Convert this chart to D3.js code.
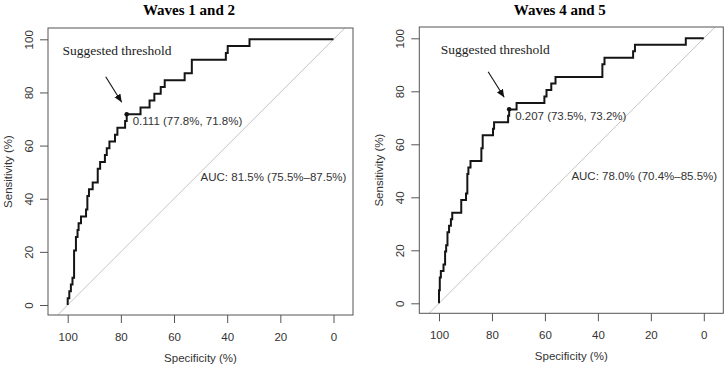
<!DOCTYPE html>
<html>
<head>
<meta charset="utf-8">
<script src="https://cdn.jsdelivr.net/npm/d3@7"></script>
<style>
  body { margin: 0; background: #fff; }
</style>
</head>
<body>
<div id="chart"></div>
<script>
const specTicks = [100, 80, 60, 40, 20, 0];
const sensTicks = [0, 20, 40, 60, 80, 100];
const titles = ["Waves 1 and 2", "Waves 4 and 5"];

// ROC staircase: sensitivity level is held until the given specificity
const spec12 = [100, 99.4, 98.8, 98.2, 97.6, 96.9, 96.3, 95.9, 95.0, 93.1, 92.6, 92.0, 90.6, 88.7, 87.8, 86.0, 85.3, 84.3, 82.2, 81.3, 78.4, 77.8, 72.6, 69.2, 67.4, 65.0, 63.5, 56.0, 53.3, 40.5, 39.8, 31.6, 0];
const sens12 = [0, 2.56, 5.13, 7.69, 10.26, 20.51, 25.64, 28.21, 30.77, 33.33, 35.9, 41.03, 43.59, 46.15, 51.28, 53.85, 56.41, 58.97, 61.54, 64.1, 66.67, 69.23, 71.79, 74.36, 76.92, 79.49, 82.05, 84.62, 87.18, 92.31, 94.87, 97.44, 100];

const spec45 = [100, 99.7, 99.3, 98.3, 97.7, 97.3, 96.8, 96.2, 95.5, 95.0, 91.6, 89.8, 89.3, 88.9, 88.1, 84.0, 83.5, 79.6, 79.2, 73.9, 73.5, 70.7, 60.2, 59.4, 57.6, 56.0, 38.3, 37.5, 26.7, 26.0, 6.8, 0];
const sens45 = [0, 4.88, 9.76, 12.2, 14.63, 19.51, 21.95, 26.83, 29.27, 31.71, 34.15, 39.02, 41.46, 48.78, 51.22, 53.66, 58.54, 63.41, 65.85, 68.29, 70.73, 73.17, 75.61, 78.05, 80.49, 82.93, 85.37, 90.24, 92.68, 95.12, 97.56, 100];

const thresholdValues = ["0.111", "0.207"];
const thresholdSpec = [77.8, 73.5];
const thresholdSens = [71.8, 73.2];
const aucLabels = ["AUC: 81.5% (75.5%\u201387.5%)", "AUC: 78.0% (70.4%\u201385.5%)"];

const width = 727;
const height = 367;
const sans = "'Liberation Sans', Arial, sans-serif";
const serif = "'Liberation Serif', 'Times New Roman', serif";

const svg = d3.select("#chart")
    .append("svg")
    .attr("width", width)
    .attr("height", height)
    .style("display", "block");

svg.append("defs").append("marker")
    .attr("id", "arrowhead")
    .attr("markerUnits", "userSpaceOnUse")
    .attr("markerWidth", 10)
    .attr("markerHeight", 8)
    .attr("refX", 8)
    .attr("refY", 3.5)
    .attr("orient", "auto")
    .append("path")
    .attr("d", "M0,0 L8,3.5 L0,7 Z")
    .attr("fill", "#111");

// box positions of the two plot regions
const panels = [
    { x0: 48, y0: 28, x1: 353, y1: 315, labelX: 69, spec: spec12, sens: sens12 },
    { x0: 419.3, y0: 27, x1: 723.3, y1: 313.3, labelX: 76, spec: spec45, sens: sens45 }
];

panels.forEach((p, i) => {
    const x = d3.scaleLinear().domain([100, 0]).range([p.x0 + 19.7, p.x1 - 19.5]);
    const y = d3.scaleLinear().domain([0, 100]).range([p.y1 - 10, p.y0 + 11.3]);
    const g = svg.append("g");

    g.append("clipPath")
        .attr("id", "clip" + i)
        .append("rect")
        .attr("x", p.x0).attr("y", p.y0)
        .attr("width", p.x1 - p.x0).attr("height", p.y1 - p.y0);

    // chance diagonal
    g.append("line")
        .attr("clip-path", `url(#clip${i})`)
        .attr("x1", x(115)).attr("y1", y(-15))
        .attr("x2", x(-15)).attr("y2", y(115))
        .attr("stroke", "#c4c4c4")
        .attr("stroke-width", 1);

    // ROC curve
    const pts = p.spec.map((s, k) => [s, p.sens[k]]);
    const line = d3.line()
        .x(d => x(d[0]))
        .y(d => y(d[1]))
        .curve(d3.curveStepBefore);

    g.append("path")
        .datum(pts)
        .attr("d", line)
        .attr("fill", "none")
        .attr("stroke", "#151515")
        .attr("stroke-width", 2);

    // box
    g.append("rect")
        .attr("x", p.x0).attr("y", p.y0)
        .attr("width", p.x1 - p.x0).attr("height", p.y1 - p.y0)
        .attr("fill", "none")
        .attr("stroke", "#555")
        .attr("stroke-width", 1);

    // axes
    const xAxis = g.append("g")
        .attr("transform", `translate(0,${p.y1})`)
        .call(d3.axisBottom(x).tickValues(specTicks).tickSize(8).tickPadding(10));
    const yAxis = g.append("g")
        .attr("transform", `translate(${p.x0},0)`)
        .call(d3.axisLeft(y).tickValues(sensTicks).tickSize(8));

    [xAxis, yAxis].forEach(a => {
        a.select(".domain").remove();
        a.selectAll(".tick line").attr("stroke", "#555");
        a.selectAll(".tick text")
            .attr("fill", "#333")
            .style("font-family", sans)
            .style("font-size", "11.5px");
    });

    yAxis.selectAll(".tick text")
        .attr("transform", "rotate(-90)")
        .attr("x", 0)
        .attr("y", -19.5)
        .attr("dy", "0.35em")
        .attr("text-anchor", "middle");

    // axis titles
    g.append("text")
        .attr("x", (p.x0 + p.x1) / 2)
        .attr("y", p.y1 + 47)
        .attr("text-anchor", "middle")
        .attr("fill", "#333")
        .style("font-family", sans)
        .style("font-size", "11.5px")
        .text("Specificity (%)");

    g.append("text")
        .attr("transform", `translate(${p.x0 - 40.5},${(p.y0 + p.y1) / 2}) rotate(-90)`)
        .attr("dy", "0.35em")
        .attr("text-anchor", "middle")
        .attr("fill", "#333")
        .style("font-family", sans)
        .style("font-size", "11.5px")
        .text("Sensitivity (%)");

    // panel title
    g.append("text")
        .attr("x", (p.x0 + p.x1) / 2 - 11.5)
        .attr("y", 15)
        .attr("text-anchor", "middle")
        .attr("fill", "#000")
        .style("font-family", serif)
        .style("font-weight", "bold")
        .style("font-size", "15px")
        .text(titles[i]);

    // threshold point and label
    const tx = x(thresholdSpec[i]);
    const ty = y(thresholdSens[i]);

    g.append("circle")
        .attr("cx", tx).attr("cy", ty)
        .attr("r", 2.3)
        .attr("fill", "#111");

    g.append("text")
        .attr("x", tx + 6)
        .attr("y", ty + 11)
        .attr("fill", "#333")
        .style("font-family", sans)
        .style("font-size", "11.5px")
        .text(`${thresholdValues[i]} (${thresholdSpec[i].toFixed(1)}%, ${thresholdSens[i].toFixed(1)}%)`);

    g.append("line")
        .attr("x1", tx - 21).attr("y1", ty - 37.5)
        .attr("x2", tx - 5).attr("y2", ty - 12)
        .attr("stroke", "#111")
        .attr("stroke-width", 1.1)
        .attr("marker-end", "url(#arrowhead)");

    g.append("text")
        .attr("x", p.x0 + p.labelX)
        .attr("y", p.y0 + 27)
        .attr("text-anchor", "middle")
        .attr("fill", "#222")
        .style("font-family", serif)
        .style("font-size", "13.5px")
        .text("Suggested threshold");

    // AUC label, top-left anchored at (50, 50)
    g.append("text")
        .attr("x", x(50))
        .attr("y", y(50))
        .attr("dy", "0.8em")
        .attr("fill", "#333")
        .style("font-family", sans)
        .style("font-size", "11.5px")
        .text(aucLabels[i]);
});
</script>
</body>
</html>
